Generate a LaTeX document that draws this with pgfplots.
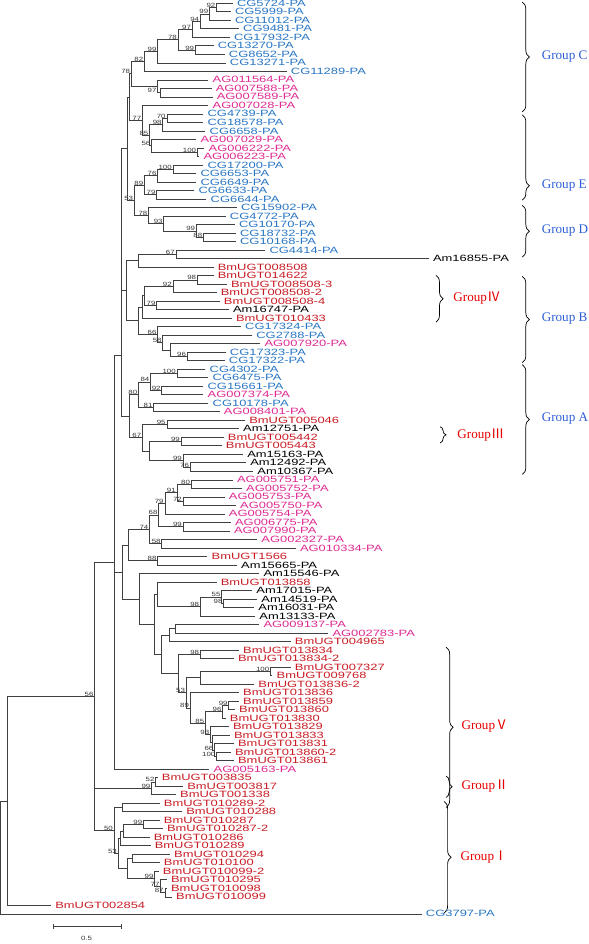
\documentclass[border=0pt]{standalone}
\usepackage{fontspec}
\setmainfont{Liberation Sans}
\newfontfamily\lblfont[FakeStretch=1.42]{Liberation Sans}
\newfontfamily\bsfont[FakeStretch=1.3]{Liberation Sans}
\newfontfamily\grpfont{Liberation Serif}
\newfontfamily\cjk{Noto Sans CJK SC}
\usepackage{pgfplots}
\usepackage{pgfplotstable}
\pgfplotsset{compat=1.18}
\usetikzlibrary{decorations.pathreplacing}
\definecolor{cgblue}{RGB}{40,118,196}
\definecolor{agmag}{RGB}{222,42,146}
\definecolor{bmred}{RGB}{200,28,36}
\definecolor{grpblue}{RGB}{45,95,215}
\definecolor{grpred}{RGB}{230,0,0}

\pgfplotstableread{
x y lab
242 1 CG5724-PA
240 2 CG5999-PA
240 3 CG11012-PA
248 4 CG9481-PA
239 5 CG17932-PA
223 6 CG13270-PA
234 7 CG8652-PA
235 8 CG13271-PA
295 9 CG11289-PA
213 14 CG4739-PA
213 15 CG18578-PA
215 16 CG6658-PA
213 20 CG17200-PA
206 21 CG6653-PA
206 22 CG6649-PA
204 23 CG6633-PA
216 24 CG6644-PA
246 25 CG15902-PA
235 26 CG4772-PA
244 27 CG10170-PA
245 28 CG18732-PA
245 29 CG10168-PA
274 30 CG4414-PA
250 39 CG17324-PA
261 40 CG2788-PA
235 42 CG17323-PA
234 43 CG17322-PA
215 44 CG4302-PA
218 45 CG6475-PA
213 46 CG15661-PA
218 48 CG10178-PA
428 108 CG3797-PA
}\cgtab

\pgfplotstableread{
x y lab
218 10 AG011564-PA
221 11 AG007588-PA
222 12 AG007589-PA
218 13 AG007028-PA
206 17 AG007029-PA
214 18 AG006222-PA
209 19 AG006223-PA
269 41 AG007920-PA
213 47 AG007374-PA
229 49 AG008401-PA
242 57 AG005751-PA
251 58 AG005752-PA
234 59 AG005753-PA
245 60 AG005750-PA
234 61 AG005754-PA
240 62 AG006775-PA
239 63 AG007990-PA
266 64 AG002327-PA
304 65 AG010334-PA
268 74 AG009137-PA
336 75 AG002783-PA
219 91 AG005163-PA
}\agtab

\pgfplotstableread{
x y lab
223 32 BmUGT008508
223 33 BmUGT014622
236 34 BmUGT008508-3
226 35 BmUGT008508-2
229 36 BmUGT008508-4
241 38 BmUGT010433
254 50 BmUGT005046
233 52 BmUGT005442
231 53 BmUGT005443
217 66 BmUGT1566
226 69 BmUGT013858
299 76 BmUGT004965
248 77 BmUGT013834
243 78 BmUGT013834-2
299 79 BmUGT007327
281 80 BmUGT009768
263 81 BmUGT013836-2
248 82 BmUGT013836
248 83 BmUGT013859
244 84 BmUGT013860
235 85 BmUGT013830
238 86 BmUGT013829
239 87 BmUGT013833
243 88 BmUGT013831
240 89 BmUGT013860-2
243 90 BmUGT013861
168 92 BmUGT003835
193 93 BmUGT003817
186 94 BmUGT001338
170 95 BmUGT010289-2
192 96 BmUGT010288
170 97 BmUGT010287
173 98 BmUGT010287-2
160 99 BmUGT010286
161 100 BmUGT010289
180 101 BmUGT010294
170 102 BmUGT010100
169 103 BmUGT010099-2
177 104 BmUGT010295
177 105 BmUGT010098
182 106 BmUGT010099
63 107 BmUGT002854
}\bmtab

\pgfplotstableread{
x y lab
435 31 Am16855-PA
238 37 Am16747-PA
248 51 Am12751-PA
252 54 Am15163-PA
255 55 Am12492-PA
262 56 Am10367-PA
246 67 Am15665-PA
268 68 Am15546-PA
261 70 Am17015-PA
266 71 Am14519-PA
263 72 Am16031-PA
264 73 Am13133-PA
}\amtab

\pgfplotstableread{
x y lab
226 1.5 92
219 2.25 99
210 3.125 94
202 4.0625 97
205 6.5 99
188 5.281 78
168 6.641 99
155 7.820 82
168 11.5 97
142 9.285 78
177 14.5 70
173 15.25 98
207 18.5 100
162 17.75 56
160 16.5 85
153 14.75 77
183 20.5 100
168 21.25 76
167 23.5 79
155 22.375 89
213 28.5 88
206 27.75 99
174 26.875 93
159 25.9375 78
145 24.156 53
186 30.5 67
207 33.5 98
183 34.25 92
167 36.5 79
197 42.5 96
173 40.875 58
168 39.9375 66
187 44.5 100
172 46.5 92
161 45.5 84
164 48.5 81
149 47 80
177 50.5 95
191 52.5 99
200 55.5 76
193 54.75 99
153 52.0625 67
201 57.5 80
193 59.5 72
187 58.5 91
175 59.75 79
193 62.5 99
169 61.125 68
172 64.5 58
160 62.8125 74
168 66.5 88
233 71.5 98
231 70.75 55
210 71.875 98
210 77.5 98
279 79.5 100
238 83.5 99
232 84.25 96
226 89.5 100
224 88.75 66
220 86.9375 93
215 85.594 85
200 83.797 89
196 82.023 53
166 92.5 52
162 93.25 99
154 97.5 99
175 105.5 87
171 104.75 77
165 103.875 99
129 100.906 53
125 98.203 50
106 82.45 56
}\boottab

\begin{document}
\begin{tikzpicture}
\begin{axis}[
  width=600bp, height=944bp, scale only axis,
  xmin=0, xmax=600, ymin=-0.909, ymax=111.74, y dir=reverse,
  hide axis, clip=false,
  br/.style={black!75, line width=0.55bp, mark=none, line join=miter},
  tip/.style={draw=none, mark=none, nodes near coords, point meta=explicit symbolic,
     nodes near coords style={anchor=west, inner sep=0pt, xshift=4bp, font=\lblfont\fontsize{9}{9}\selectfont}},
]
% ---- branches (one polyline per internal node)
\addplot[br] coordinates {(242,1) (226,1) (226,2) (240,2)};
\addplot[br] coordinates {(226,1.5) (219,1.5) (219,3) (240,3)};
\addplot[br] coordinates {(219,2.25) (210,2.25) (210,4) (248,4)};
\addplot[br] coordinates {(210,3.125) (202,3.125) (202,5) (239,5)};
\addplot[br] coordinates {(223,6) (205,6) (205,7) (234,7)};
\addplot[br] coordinates {(202,4.0625) (188,4.0625) (188,6.5) (205,6.5)};
\addplot[br] coordinates {(188,5.281) (168,5.281) (168,8) (235,8)};
\addplot[br] coordinates {(168,6.641) (155,6.641) (155,9) (295,9)};
\addplot[br] coordinates {(221,11) (171,11) (171,12) (222,12)};
\addplot[br] coordinates {(218,10) (168,10) (168,11.5) (171,11.5)};
\addplot[br] coordinates {(155,7.820) (142,7.820) (142,10.75) (168,10.75)};
\addplot[br] coordinates {(213,14) (177,14) (177,15) (213,15)};
\addplot[br] coordinates {(177,14.5) (173,14.5) (173,16) (215,16)};
\addplot[br] coordinates {(214,18) (207,18) (207,19) (209,19)};
\addplot[br] coordinates {(206,17) (162,17) (162,18.5) (207,18.5)};
\addplot[br] coordinates {(173,15.25) (160,15.25) (160,17.75) (162,17.75)};
\addplot[br] coordinates {(218,13) (153,13) (153,16.5) (160,16.5)};
\addplot[br] coordinates {(142,9.285) (140,9.285) (140,14.75) (153,14.75)};
\addplot[br] coordinates {(213,20) (183,20) (183,21) (206,21)};
\addplot[br] coordinates {(183,20.5) (168,20.5) (168,22) (206,22)};
\addplot[br] coordinates {(204,23) (167,23) (167,24) (216,24)};
\addplot[br] coordinates {(168,21.25) (155,21.25) (155,23.5) (167,23.5)};
\addplot[br] coordinates {(245,28) (213,28) (213,29) (245,29)};
\addplot[br] coordinates {(244,27) (206,27) (206,28.5) (213,28.5)};
\addplot[br] coordinates {(235,26) (174,26) (174,27.75) (206,27.75)};
\addplot[br] coordinates {(246,25) (159,25) (159,26.875) (174,26.875)};
\addplot[br] coordinates {(155,22.375) (145,22.375) (145,25.9375) (159,25.9375)};
\addplot[br] coordinates {(140,12.0175) (138,12.0175) (138,24.156) (145,24.156)};
\addplot[br] coordinates {(274,30) (186,30) (186,31) (435,31)};
\addplot[br] coordinates {(186,30.5) (149,30.5) (149,32) (223,32)};
\addplot[br] coordinates {(223,33) (207,33) (207,34) (236,34)};
\addplot[br] coordinates {(207,33.5) (183,33.5) (183,35) (226,35)};
\addplot[br] coordinates {(229,36) (167,36) (167,37) (238,37)};
\addplot[br] coordinates {(183,34.25) (155,34.25) (155,36.5) (167,36.5)};
\addplot[br] coordinates {(155,35.375) (153,35.375) (153,38) (241,38)};
\addplot[br] coordinates {(235,42) (197,42) (197,43) (234,43)};
\addplot[br] coordinates {(269,41) (180,41) (180,42.5) (197,42.5)};
\addplot[br] coordinates {(261,40) (173,40) (173,41.75) (180,41.75)};
\addplot[br] coordinates {(250,39) (168,39) (168,40.875) (173,40.875)};
\addplot[br] coordinates {(153,36.6875) (149,36.6875) (149,39.9375) (168,39.9375)};
\addplot[br] coordinates {(149,31.25) (137,31.25) (137,38.3125) (149,38.3125)};
\addplot[br] coordinates {(215,44) (187,44) (187,45) (218,45)};
\addplot[br] coordinates {(213,46) (172,46) (172,47) (213,47)};
\addplot[br] coordinates {(187,44.5) (161,44.5) (161,46.5) (172,46.5)};
\addplot[br] coordinates {(218,48) (164,48) (164,49) (229,49)};
\addplot[br] coordinates {(161,45.5) (149,45.5) (149,48.5) (164,48.5)};
\addplot[br] coordinates {(254,50) (177,50) (177,51) (248,51)};
\addplot[br] coordinates {(233,52) (191,52) (191,53) (231,53)};
\addplot[br] coordinates {(255,55) (200,55) (200,56) (262,56)};
\addplot[br] coordinates {(252,54) (193,54) (193,55.5) (200,55.5)};
\addplot[br] coordinates {(191,52.5) (160,52.5) (160,54.75) (193,54.75)};
\addplot[br] coordinates {(177,50.5) (153,50.5) (153,53.625) (160,53.625)};
\addplot[br] coordinates {(149,47) (140,47) (140,52.0625) (153,52.0625)};
\addplot[br] coordinates {(138,18.087) (132,18.087) (132,49.531) (140,49.531)};
\addplot[br] coordinates {(132,34.781) (137,34.781)};
\addplot[br] coordinates {(242,57) (201,57) (201,58) (251,58)};
\addplot[br] coordinates {(234,59) (193,59) (193,60) (245,60)};
\addplot[br] coordinates {(201,57.5) (187,57.5) (187,59.5) (193,59.5)};
\addplot[br] coordinates {(187,58.5) (175,58.5) (175,61) (234,61)};
\addplot[br] coordinates {(240,62) (193,62) (193,63) (239,63)};
\addplot[br] coordinates {(175,59.75) (169,59.75) (169,62.5) (193,62.5)};
\addplot[br] coordinates {(266,64) (172,64) (172,65) (304,65)};
\addplot[br] coordinates {(169,61.125) (160,61.125) (160,64.5) (172,64.5)};
\addplot[br] coordinates {(217,66) (168,66) (168,67) (246,67)};
\addplot[br] coordinates {(160,62.8125) (139,62.8125) (139,66.5) (168,66.5)};
\addplot[br] coordinates {(266,71) (233,71) (233,72) (263,72)};
\addplot[br] coordinates {(261,70) (231,70) (231,71.5) (233,71.5)};
\addplot[br] coordinates {(231,70.75) (210,70.75) (210,73) (264,73)};
\addplot[br] coordinates {(226,69) (168,69) (168,71.875) (210,71.875)};
\addplot[br] coordinates {(268,74) (185,74) (185,75) (336,75)};
\addplot[br] coordinates {(185,74.5) (179,74.5) (179,76) (299,76)};
\addplot[br] coordinates {(248,77) (210,77) (210,78) (243,78)};
\addplot[br] coordinates {(299,79) (279,79) (279,80) (281,80)};
\addplot[br] coordinates {(279,79.5) (210,79.5) (210,81) (263,81)};
\addplot[br] coordinates {(248,83) (238,83) (238,84) (244,84)};
\addplot[br] coordinates {(238,83.5) (232,83.5) (232,85) (235,85)};
\addplot[br] coordinates {(240,89) (226,89) (226,90) (243,90)};
\addplot[br] coordinates {(243,88) (224,88) (224,89.5) (226,89.5)};
\addplot[br] coordinates {(239,87) (222,87) (222,88.75) (224,88.75)};
\addplot[br] coordinates {(238,86) (220,86) (220,87.875) (222,87.875)};
\addplot[br] coordinates {(232,84.25) (215,84.25) (215,86.9375) (220,86.9375)};
\addplot[br] coordinates {(248,82) (200,82) (200,85.594) (215,85.594)};
\addplot[br] coordinates {(210,80.25) (196,80.25) (196,83.797) (200,83.797)};
\addplot[br] coordinates {(210,77.5) (188,77.5) (188,82.023) (196,82.023)};
\addplot[br] coordinates {(179,75.25) (172,75.25) (172,79.762) (188,79.762)};
\addplot[br] coordinates {(168,70.4375) (165,70.4375) (165,77.506) (172,77.506)};
\addplot[br] coordinates {(268,68) (150,68) (150,73.972) (165,73.972)};
\addplot[br] coordinates {(139,64.656) (133,64.656) (133,70.986) (150,70.986)};
\addplot[br] coordinates {(132,42.4) (125,42.4) (125,91) (219,91)};
\addplot[br] coordinates {(125,67.821) (133,67.821)};
\addplot[br] coordinates {(168,92) (166,92) (166,93) (193,93)};
\addplot[br] coordinates {(166,92.5) (162,92.5) (162,94) (186,94)};
\addplot[br] coordinates {(170,97) (154,97) (154,98) (173,98)};
\addplot[br] coordinates {(154,97.5) (134,97.5) (134,99) (160,99)};
\addplot[br] coordinates {(134,98.25) (131,98.25) (131,100) (161,100)};
\addplot[br] coordinates {(180,101) (143,101) (143,102) (170,102)};
\addplot[br] coordinates {(177,105) (175,105) (175,106) (182,106)};
\addplot[br] coordinates {(177,104) (171,104) (171,105.5) (175,105.5)};
\addplot[br] coordinates {(169,103) (165,103) (165,104.75) (171,104.75)};
\addplot[br] coordinates {(143,101.5) (138,101.5) (138,103.875) (165,103.875)};
\addplot[br] coordinates {(131,99.125) (129,99.125) (129,102.6875) (138,102.6875)};
\addplot[br] coordinates {(170,95) (133,95) (133,96) (192,96)};
\addplot[br] coordinates {(133,95.5) (125,95.5) (125,100.906) (129,100.906)};
\addplot[br] coordinates {(125,66.7) (106,66.7) (106,98.203) (125,98.203)};
\addplot[br] coordinates {(106,93.25) (162,93.25)};
\addplot[br] coordinates {(106,82.45) (20,82.45) (20,107) (63,107)};
\addplot[br] coordinates {(20,94.73) (13,94.73) (13,108) (428,108)};
% ---- scale bar
\addplot[br] coordinates {(65,109.47) (132,109.47)};
\addplot[br] coordinates {(65,109.17) (65,109.77)};
\addplot[br] coordinates {(132,109.17) (132,109.77)};
\node[font=\bsfont\fontsize{6}{6}\selectfont, black!80] at (axis cs:98,110.9) {0.5};
% ---- tip labels
\addplot[tip, nodes near coords style={text=cgblue}] table[x=x,y=y,meta=lab]{\cgtab};
\addplot[tip, nodes near coords style={text=agmag}] table[x=x,y=y,meta=lab]{\agtab};
\addplot[tip, nodes near coords style={text=bmred}] table[x=x,y=y,meta=lab]{\bmtab};
\addplot[tip, nodes near coords style={text=black}] table[x=x,y=y,meta=lab]{\amtab};
% ---- bootstrap values
\addplot[draw=none, mark=none, nodes near coords, point meta=explicit symbolic,
  nodes near coords style={anchor=east, inner sep=0pt, xshift=-1bp, yshift=2bp, text=black!80,
  font=\bsfont\fontsize{6}{6}\selectfont}] table[x=x,y=y,meta=lab]{\boottab};
% ---- group braces and labels
\begin{scope}[line width=0.7bp, black]
\draw[decorate, decoration={brace, amplitude=7bp}] (axis cs:527,0.88) -- (axis cs:527,13.77);
\draw[decorate, decoration={brace, amplitude=7bp, aspect=0.83}] (axis cs:527,14.13) -- (axis cs:527,24.15);
\draw[decorate, decoration={brace, amplitude=7bp}] (axis cs:527,24.75) -- (axis cs:527,30.83);
\draw[decorate, decoration={brace, amplitude=7bp}] (axis cs:527,33.1) -- (axis cs:527,43.24);
\draw[decorate, decoration={brace, amplitude=7bp}] (axis cs:527,43.48) -- (axis cs:527,56.37);
\draw[decorate, decoration={brace, amplitude=7bp}] (axis cs:442,32.98) -- (axis cs:442,38.47);
\draw[decorate, decoration={brace, amplitude=6bp}] (axis cs:446,50.76) -- (axis cs:446,52.67);
\draw[decorate, decoration={brace, amplitude=7bp}] (axis cs:452,76.66) -- (axis cs:452,95.5);
\draw[decorate, decoration={brace, amplitude=6bp}] (axis cs:452,91.81) -- (axis cs:452,94.32);
\draw[decorate, decoration={brace, amplitude=7bp}] (axis cs:450,94.8) -- (axis cs:450,107.9);
\end{scope}
\begin{scope}[every node/.style={anchor=west, inner sep=0pt, font=\grpfont\fontsize{13}{13}\selectfont}]
\node[text=grpblue] at (axis cs:546,7.32) {Group C};
\node[text=grpblue] at (axis cs:546,22.48) {Group E};
\node[text=grpblue] at (axis cs:546,27.73) {Group D};
\node[text=grpblue] at (axis cs:546,38.1) {Group B};
\node[text=grpblue] at (axis cs:546,49.8) {Group A};
\node[text=grpred] at (axis cs:459,35.7) {Group{\cjk Ⅳ}};
\node[text=grpred] at (axis cs:463,51.7) {Group{\cjk Ⅲ}};
\node[text=grpred] at (axis cs:467,85.96) {Group{\cjk Ⅴ}};
\node[text=grpred] at (axis cs:467,93.0) {Group{\cjk Ⅱ}};
\node[text=grpred] at (axis cs:466,101.36) {Group{\cjk Ⅰ}};
\end{scope}
\end{axis}
\end{tikzpicture}
\end{document}
